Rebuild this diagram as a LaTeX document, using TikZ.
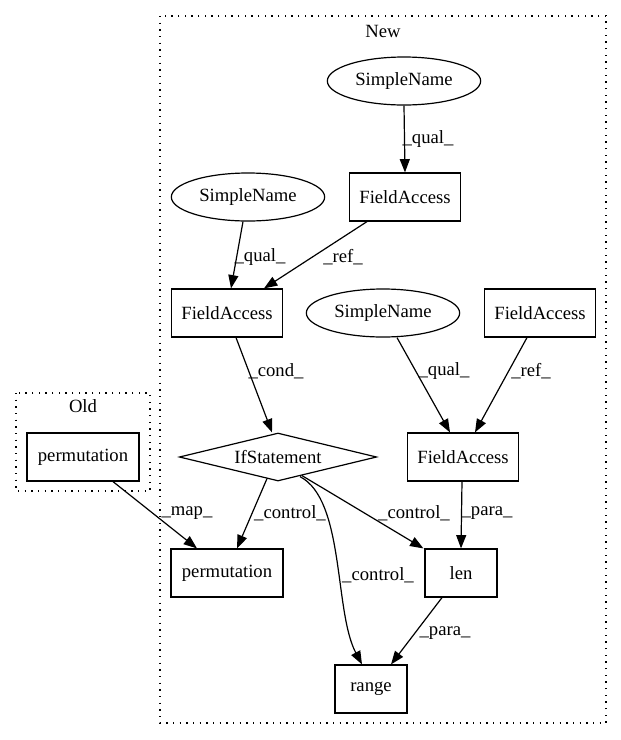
\documentclass[tikz,border=0pt]{standalone}
\usepackage{fontspec}
\setmainfont{Liberation Serif}
\usetikzlibrary{arrows.meta,shapes.geometric,calc}
\begin{document}
\begin{tikzpicture}[x=0.75pt,y=-0.75pt,
  every node/.style={font=\fontsize{14pt}{16pt}\selectfont},
  box/.style={draw, line width=0.9pt, rectangle, minimum height=36pt, inner sep=0pt},
  ell/.style={draw, line width=0.9pt, ellipse, minimum width=115pt, minimum height=36pt, inner sep=0pt},
  dia/.style={draw, line width=0.9pt, diamond, minimum width=148pt, minimum height=36pt, inner sep=0pt, shape aspect=4},
  edge/.style={draw, line width=0.9pt, -{Triangle[length=10pt,width=7.5pt]}},
  lab/.style={inner sep=0pt},
  cluster/.style={draw, line width=1pt, dash pattern=on 1pt off 4pt}]
\useasboundingbox (0,0) rectangle (621,740);
% clusters
\draw[cluster] (160,16) rectangle (606,723);
\draw[cluster] (16,393) rectangle (150,491);
\node (newlab) at (383,31) {New};
\node (oldlab) at (83,406) {Old};
% nodes
\node[ell] (st) at (404,81) {SimpleName};
\node[box, minimum width=83pt] (ft) at (405,197) {FieldAccess};
\node[ell] (sl) at (248,197) {SimpleName};
\node[box, minimum width=83pt] (fl) at (227,313) {FieldAccess};
\node[ell] (sm) at (383,313) {SimpleName};
\node[box, minimum width=83pt] (fa) at (540,313) {FieldAccess};
\node[dia] (if) at (278,457) {IfStatement};
\node[box, minimum width=83pt] (fr) at (463,457) {FieldAccess};
\node[box, minimum width=84pt] (po) at (83,457) {permutation};
\node[box, minimum width=84pt] (pn) at (227,573) {permutation};
\node[box, minimum width=54pt] (len) at (461,573) {len};
\node[box, minimum width=54pt] (range) at (371,689) {range};
% edges
\draw[edge] (st.south) -- (ft.north);
\draw[edge] ($(sl.south)+(-5,0)$) -- ($(fl.north)+(4,0)$);
\draw[edge] ($(ft.south)+(-38,0)$) -- ($(fl.north)+(37,0)$);
\draw[edge] ($(fl.south)+(9,0)$) -- ($(if.north)+(-6,0)$);
\draw[edge] ($(sm.south)+(14,0)$) -- ($(fr.north)+(-13,0)$);
\draw[edge] ($(fa.south)+(-13,0)$) -- ($(fr.north)+(12,0)$);
\draw[edge] ($(po.south)+(30,0)$) -- ($(pn.north)+(-30,0)$);
\draw[edge] ($(if.south)+(-11,-3)$) -- ($(pn.north)+(10,0)$);
\draw[edge] ($(if.south)+(24,-6)$) -- ($(len.north west)+(-1,0)$);
\draw[edge] ($(if.south)+(22,-5)$) .. controls (345,500) and (334,612) .. ($(range.north)+(-9,0)$);
\draw[edge] ($(fr.south)+(-1,0)$) -- (len.north);
\draw[edge] ($(len.south)+(-19,0)$) -- ($(range.north)+(20,0)$);
% edge labels
\node[lab] (l1) at (428,139) {\_qual\_};
\node[lab] (l2) at (260,257) {\_qual\_};
\node[lab] (l3) at (343,257) {\_ref\_};
\node[lab] (l4) at (276,371) {\_cond\_};
\node[lab] (l5) at (444,371) {\_qual\_};
\node[lab] (l6) at (531,371) {\_ref\_};
\node[lab] (l7) at (187,513) {\_map\_};
\node[lab] (l8) at (290,513) {\_control\_};
\node[lab] (l9) at (414,513) {\_control\_};
\node[lab] (l10) at (378,575) {\_control\_};
\node[lab] (l11) at (487,513) {\_para\_};
\node[lab] (l12) at (445,633) {\_para\_};
\end{tikzpicture}
\end{document}
